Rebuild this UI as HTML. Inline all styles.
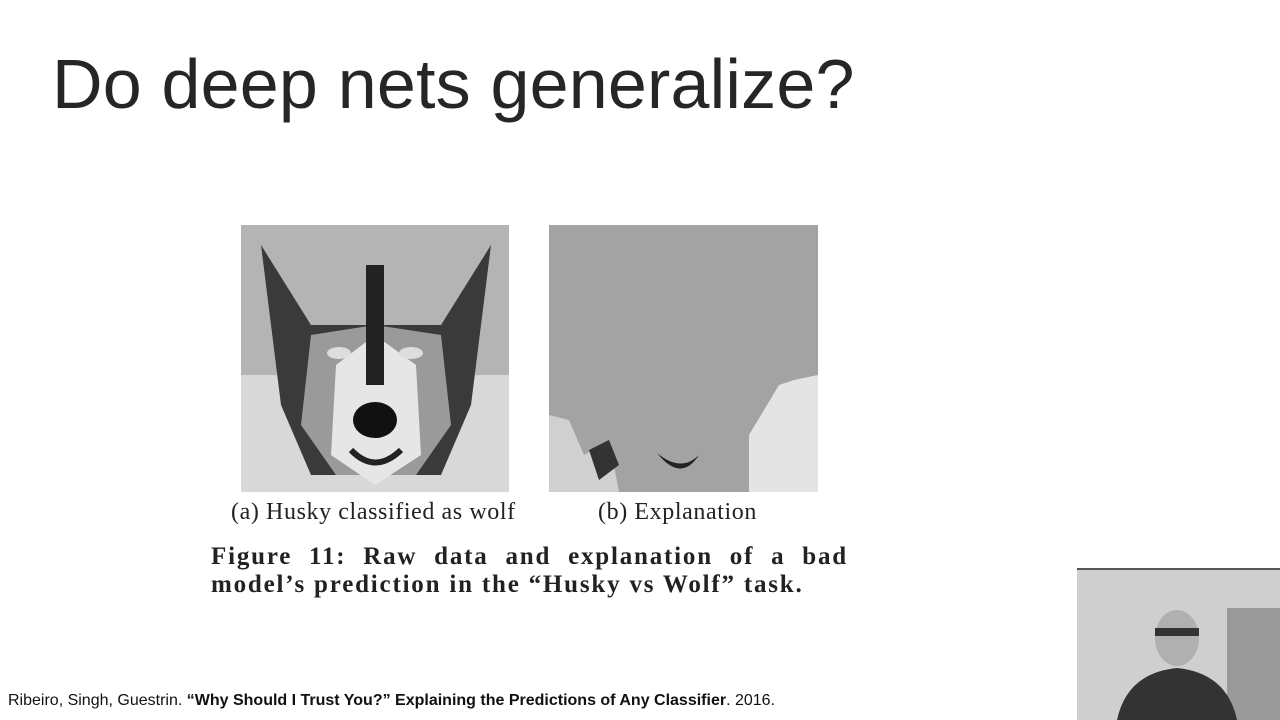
<!DOCTYPE html>
<html><head><meta charset="utf-8">
<style>
html,body{margin:0;padding:0;width:1280px;height:720px;background:#fff;overflow:hidden;position:relative;font-family:"Liberation Sans",sans-serif;}
.abs{position:absolute;}
#title{left:52px;top:44px;font-size:70px;color:#262626;white-space:nowrap;letter-spacing:0.2px;}
.cap{font-family:"Liberation Serif",serif;font-size:24px;color:#222;white-space:nowrap;letter-spacing:0.6px;}
.fig{font-family:"Liberation Serif",serif;font-weight:bold;font-size:25px;color:#222;white-space:nowrap;letter-spacing:1.8px;}
#footer{left:8px;top:692px;font-size:16px;color:#111;white-space:nowrap;}
</style></head><body>
<div id="title" class="abs">Do deep nets generalize?</div>

<svg class="abs" style="left:241px;top:225px" width="268" height="267">
<rect width="268" height="267" fill="#b4b4b4"/>
<rect x="0" y="150" width="268" height="117" fill="#d8d8d8"/>
<path d="M20 20 L70 100 L200 100 L250 20 L230 180 L200 250 L70 250 L40 180 Z" fill="#3a3a3a"/>
<path d="M70 110 L134 100 L200 110 L210 200 L175 250 L95 250 L60 200 Z" fill="#9a9a9a"/>
<path d="M95 140 L134 110 L175 140 L180 230 L134 260 L90 230 Z" fill="#e6e6e6"/>
<rect x="125" y="40" width="18" height="120" fill="#222"/>
<ellipse cx="98" cy="128" rx="12" ry="6" fill="#ddd"/>
<ellipse cx="170" cy="128" rx="12" ry="6" fill="#ddd"/>
<ellipse cx="134" cy="195" rx="22" ry="18" fill="#111"/>
<path d="M110 225 Q134 250 160 225" stroke="#222" stroke-width="6" fill="none"/>
</svg>

<svg class="abs" style="left:549px;top:225px" width="269" height="267">
<rect width="269" height="267" fill="#a3a3a3"/>
<path d="M200 267 L200 210 L230 160 L245 155 L269 150 L269 267 Z" fill="#e4e4e4"/>
<path d="M0 267 L0 190 L20 195 L35 230 L60 215 L70 267 Z" fill="#d0d0d0"/>
<path d="M40 225 L60 215 L70 240 L50 255 Z" fill="#333"/>
<path d="M108 228 Q132 258 150 230 Q132 248 108 228 Z" fill="#222"/>
</svg>

<div class="abs cap" style="left:231px;top:499px">(a) Husky classified as wolf</div>
<div class="abs cap" style="left:598px;top:499px">(b) Explanation</div>
<div class="abs fig" style="left:211px;top:543px;width:637px;text-align:justify;text-align-last:justify;">Figure 11: Raw data and explanation of a bad</div>
<div class="abs fig" style="left:211px;top:571px">model’s prediction in the “Husky vs Wolf” task.</div>

<div id="footer" class="abs">Ribeiro, Singh, Guestrin. <b>“Why Should I Trust You?” Explaining the Predictions of Any Classifier</b>. 2016.</div>

<svg class="abs" style="left:1077px;top:568px" width="203" height="152">
<rect width="203" height="152" fill="#cfcfcf"/>
<rect x="150" y="40" width="53" height="112" fill="#9a9a9a"/>
<rect x="0" y="0" width="203" height="2" fill="#555"/>
<ellipse cx="100" cy="70" rx="22" ry="28" fill="#b0b0b0"/>
<rect x="78" y="60" width="44" height="8" fill="#333"/>
<path d="M40 152 Q50 105 100 100 Q150 105 160 152 Z" fill="#333"/>
</svg>
</body></html>
